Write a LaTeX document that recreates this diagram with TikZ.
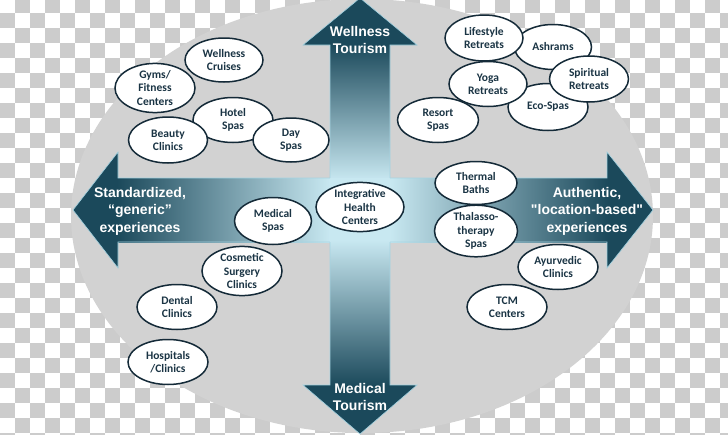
\documentclass[tikz,border=0pt]{standalone}
\usepackage{fontspec}
\usetikzlibrary{shapes.geometric}
\newfontfamily\carl{Carlito}[BoldFont={* Bold}]
\newfontfamily\lib{Liberation Sans}
\definecolor{chk}{RGB}{204,204,204}
\definecolor{ell}{RGB}{210,210,210}
\definecolor{dk}{RGB}{27,73,91}
\definecolor{lt}{RGB}{200,232,241}
\definecolor{edge}{RGB}{165,212,226}
\definecolor{bord}{RGB}{20,42,56}
\definecolor{txt}{RGB}{26,52,68}
\tikzset{
  bub/.style={ellipse, draw=bord, line width=1.5pt, fill=white, inner sep=0pt,
    minimum width=80pt, minimum height=45pt, align=center,
    font=\carl\bfseries\fontsize{11.5}{13.3}\selectfont, text=txt},
  albl/.style={align=center, text=white, font=\lib\bfseries\fontsize{14}{17.5}\selectfont, inner sep=0pt},
  arr/.style={draw=edge, line width=0.6pt}
}
\begin{document}
\begin{tikzpicture}[x=1pt,y=-1pt]
\useasboundingbox (0,0) rectangle (728,434);
% transparency checkerboard
\begin{scope}
\clip (0,0) rectangle (728,434);
\foreach \j in {0,...,29}{
  \foreach \i in {0,...,24}{
    \fill[chk] ({30*\i+15*mod(\j+1,2)},{15*\j-2}) rectangle +(15,15);
  }
}
\end{scope}
% big gray ellipse
\fill[ell] (362,216) ellipse [x radius=291, y radius=217];
% horizontal arrow
\fill[dk] (73,210) -- (118,152) -- (118,268) -- cycle;
\fill[dk] (653,210) -- (607,152) -- (607,268) -- cycle;
\shade[left color=dk, right color=lt] (117,178) rectangle (330,242);
\fill[lt] (329,178) rectangle (391,242);
\shade[left color=lt, right color=dk] (390,178) rectangle (608,242);
\draw[arr] (73,210) -- (118,152) -- (118,178) -- (330,178);
\draw[arr] (73,210) -- (118,268) -- (118,242) -- (330,242);
\draw[arr] (653,210) -- (607,152) -- (607,178) -- (390,178);
\draw[arr] (653,210) -- (607,268) -- (607,242) -- (390,242);
% vertical arrow
\fill[dk] (360,-2) -- (303,45) -- (417,45) -- cycle;
\fill[dk] (360,434) -- (303,385) -- (417,385) -- cycle;
\shade[top color=dk, bottom color=lt] (330,44) rectangle (390,180);
\fill[lt] (330,178) rectangle (390,242);
\shade[top color=lt, bottom color=dk] (330,240) rectangle (390,386);
\draw[arr] (330,178) -- (330,45) -- (303,45) -- (360,-2) -- (417,45) -- (390,45) -- (390,178);
\draw[arr] (330,242) -- (330,385) -- (303,385) -- (360,434) -- (417,385) -- (390,385) -- (390,242);
% arrow labels
\node[albl] (wt) at (360,40) {Wellness\\Tourism};
\node[albl] (mt) at (360,397) {Medical\\Tourism};
\node[albl] (std) at (140,211) {Standardized,\\“generic”\\experiences};
\node[albl] (auth) at (587,211) {Authentic,\\"location-based"\\experiences};
% bubbles top-left
\node[bub, minimum width=78pt, minimum height=44pt] (wc) at (224,60) {Wellness\\Cruises};
\node[bub] (gym) at (155,88) {Gyms/\\Fitness\\Centers};
\node[bub] (hotel) at (233,120) {Hotel\\Spas};
\node[bub, minimum width=79pt, minimum height=46pt] (beauty) at (168,140) {Beauty\\Clinics};
\node[bub, minimum width=76pt, minimum height=44pt] (day) at (291,140) {Day\\Spas};
% bubbles top-right
\node[bub, minimum width=77pt] (ash) at (553,47) {Ashrams};
\node[bub, minimum height=47pt] (eco) at (548,107) {Eco-Spas};
\node[bub, minimum width=78pt, minimum height=46pt] (life) at (484,38) {Lifestyle\\Retreats};
\node[bub, minimum width=78pt] (yoga) at (488,84) {Yoga\\Retreats};
\node[bub, minimum width=79pt, minimum height=46pt] (spir) at (589,79) {Spiritual\\Retreats};
\node[bub, minimum width=81pt] (resort) at (438,120) {Resort\\Spas};
% center
\node[bub, minimum width=77pt, minimum height=47pt] (med) at (273,221) {Medical\\Spas};
\node[bub, minimum width=88pt, minimum height=48pt] (ihc) at (360,207) {Integrative\\Health\\Centers};
\node[bub, minimum width=82pt, minimum height=43pt] (therm) at (476,183) {Thermal\\Baths};
\node[bub, minimum width=83pt, minimum height=48pt] (thal) at (476,231) {Thalasso-\\therapy\\Spas};
% bottom
\node[bub, minimum height=43pt] (cos) at (242,271) {Cosmetic\\Surgery\\Clinics};
\node[bub] (dent) at (177,307) {Dental\\Clinics};
\node[bub] (hosp) at (168,362) {Hospitals\\/Clinics};
\node[bub] (ayur) at (558,267) {Ayurvedic\\Clinics};
\node[bub] (tcm) at (507,307) {TCM\\Centers};
\end{tikzpicture}
\end{document}
